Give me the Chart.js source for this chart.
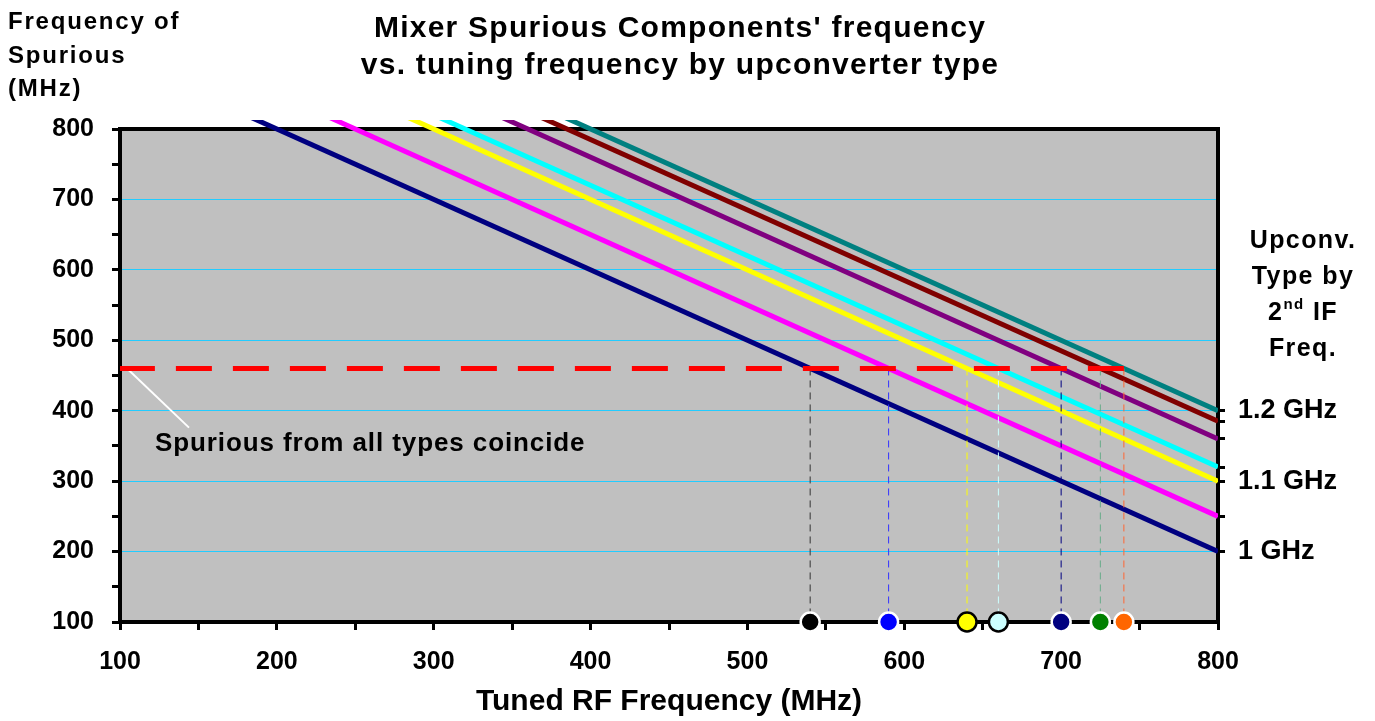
<!DOCTYPE html>
<html>
<head>
<meta charset="utf-8">
<script src="https://cdn.jsdelivr.net/npm/chart.js@4.4.1/dist/chart.umd.min.js"></script>
<style>
  html, body { margin: 0; padding: 0; background: #fff; }
  #wrap { width: 1375px; height: 721px; position: relative; }
</style>
</head>
<body>
<div id="wrap"><canvas id="chart"></canvas></div>
<script>
'use strict';

// spurious frequency vs tuned RF, one line per upconverter 2nd IF
const tunedRange = [150, 800];
const spurAtStart = [850, 900, 950, 970, 1010, 1035, 1050];
const spurAtEnd = [200, 250, 300, 320, 360, 385, 400];
const spurColors = ['#000080', '#ff00ff', '#ffff00', '#00ffff', '#800080', '#800000', '#008080'];

// level where spurious of all types coincide and the tuned freqs where each type hits it
const coincideLevel = 460;
const coincideTuned = [540, 590, 640, 660, 700, 725, 740];
const markerFill = ['#000000', '#0000ff', '#ffff00', '#ccffff', '#000080', '#008000', '#ff6600'];
const markerEdge = ['#ffffff', '#ffffff', '#000000', '#000000', '#ffffff', '#ffffff', '#ffffff'];
const dropColors = ['#333333', '#3333ff', '#ffff00', '#ccffff', '#000080', '#66aa88', '#ff6633'];

const ifLabels = { 200: '1 GHz', 300: '1.1 GHz', 400: '1.2 GHz' };
const leaderLine = [[103.5, 462], [144, 376]];

const FONT = "'Liberation Sans', Arial, sans-serif";

let datasets = [];

for (let i = 0; i < spurAtEnd.length; i++) {
    datasets.push({
        data: [{x: tunedRange[0], y: spurAtStart[i]}, {x: tunedRange[1], y: spurAtEnd[i]}],
        borderColor: spurColors[i],
        borderWidth: 5,
        pointRadius: 0,
        showLine: true,
        clip: {left: 0, top: 9, right: 0, bottom: 0},
        order: 4
    });
}

for (let i = 0; i < coincideTuned.length; i++) {
    datasets.push({
        data: [{x: coincideTuned[i], y: coincideLevel}, {x: coincideTuned[i], y: 100}],
        borderColor: dropColors[i],
        borderWidth: 1,
        borderDash: [7, 5],
        pointRadius: 0,
        showLine: true,
        order: 3
    });
}

datasets.push({
    data: [{x: coincideTuned[coincideTuned.length - 1], y: coincideLevel}, {x: 100, y: coincideLevel}],
    borderColor: '#ff0000',
    borderWidth: 5,
    borderDash: [36, 21],
    pointRadius: 0,
    showLine: true,
    order: 2
});

datasets.push({
    data: leaderLine.map(p => ({x: p[0], y: p[1]})),
    borderColor: '#ffffff',
    borderWidth: 2,
    pointRadius: 0,
    showLine: true,
    order: 2
});

datasets.push({
    data: coincideTuned.map(v => ({x: v, y: 100})),
    pointRadius: 9.5,
    pointBorderWidth: 2.5,
    pointBackgroundColor: markerFill,
    pointBorderColor: markerEdge,
    showLine: false,
    clip: false,
    order: 0
});

function spacedText(ctx, text, x, y, size, spacing) {
    ctx.font = 'bold ' + size + 'px ' + FONT;
    ctx.letterSpacing = spacing + 'px';
    ctx.fillText(text, x, y);
}

const framePlugin = {
    id: 'frame',
    beforeDraw(chart) {
        const a = chart.chartArea;
        const ctx = chart.ctx;
        ctx.save();
        ctx.fillStyle = '#c0c0c0';
        ctx.fillRect(a.left, a.top, a.right - a.left, a.bottom - a.top);
        ctx.restore();
    },
    beforeDatasetsDraw(chart) {
        const a = chart.chartArea;
        const ctx = chart.ctx;
        ctx.save();
        ctx.strokeStyle = '#000';
        ctx.lineWidth = 4;
        ctx.strokeRect(a.left, a.top, a.right - a.left, a.bottom - a.top);
        ctx.restore();
    },
    afterDatasetsDraw(chart) {
        const ctx = chart.ctx;
        ctx.save();
        ctx.fillStyle = '#000';
        ctx.textBaseline = 'alphabetic';
        ctx.textAlign = 'left';
        spacedText(ctx, 'Spurious from all types coincide', 155, 451, 26, 0.9);
        ctx.letterSpacing = '0px';
        ctx.restore();
    },
    afterDraw(chart) {
        const ctx = chart.ctx;
        ctx.save();
        ctx.fillStyle = '#000';
        ctx.textBaseline = 'alphabetic';

        ctx.textAlign = 'center';
        spacedText(ctx, "Mixer Spurious Components' frequency", 680, 37, 30, 1.25);
        spacedText(ctx, 'vs. tuning frequency by upconverter type', 680, 74, 30, 1.25);

        ctx.textAlign = 'left';
        spacedText(ctx, 'Frequency of', 8, 29, 24, 1.8);
        spacedText(ctx, 'Spurious', 8, 63, 24, 1.8);
        spacedText(ctx, '(MHz)', 8, 96, 24, 1.8);

        const cx = 1303;
        ctx.textAlign = 'center';
        spacedText(ctx, 'Upconv.', cx, 248, 25, 1.4);
        spacedText(ctx, 'Type by', cx, 284, 25, 1.4);
        spacedText(ctx, 'Freq.', cx, 356, 25, 1.4);

        // 2nd IF with superscript
        ctx.textAlign = 'left';
        ctx.letterSpacing = '1.4px';
        const big = 'bold 25px ' + FONT;
        const small = 'bold 15px ' + FONT;
        ctx.font = big;
        const w1 = ctx.measureText('2').width;
        const w3 = ctx.measureText(' IF').width;
        ctx.font = small;
        const w2 = ctx.measureText('nd').width;
        let x0 = cx - (w1 + w2 + w3) / 2;
        ctx.font = big;
        ctx.fillText('2', x0, 320);
        ctx.font = small;
        ctx.fillText('nd', x0 + w1, 309);
        ctx.font = big;
        ctx.fillText(' IF', x0 + w1 + w2, 320);
        ctx.letterSpacing = '0px';
        ctx.restore();
    }
};

new Chart(document.getElementById('chart'), {
    type: 'scatter',
    data: { datasets: datasets },
    options: {
        responsive: true,
        maintainAspectRatio: false,
        animation: false,
        layout: { padding: { top: 129, left: 0, right: 0, bottom: 0 } },
        plugins: {
            legend: { display: false },
            tooltip: { enabled: false }
        },
        scales: {
            x: {
                type: 'linear',
                min: 100,
                max: 800,
                afterFit: s => { s.height = 99; },
                ticks: {
                    stepSize: 50,
                    color: '#000',
                    padding: 17,
                    maxRotation: 0,
                    autoSkip: false,
                    font: { family: FONT, size: 25, weight: 'bold' },
                    callback: v => (v % 100 === 0 ? String(v) : '')
                },
                grid: {
                    drawOnChartArea: false,
                    tickLength: 8,
                    tickColor: '#000',
                    tickWidth: 3
                },
                border: { color: '#000', width: 4 },
                title: {
                    display: true,
                    text: 'Tuned RF Frequency (MHz)',
                    color: '#000',
                    padding: { top: 0, bottom: 1 },
                    font: { family: FONT, size: 30, weight: 'bold' }
                }
            },
            y: {
                type: 'linear',
                position: 'left',
                min: 100,
                max: 800,
                afterFit: s => { s.width = 120; },
                ticks: {
                    stepSize: 50,
                    color: '#000',
                    padding: 18,
                    autoSkip: false,
                    font: { family: FONT, size: 25, weight: 'bold' },
                    callback: v => (v % 100 === 0 ? String(v) : '')
                },
                grid: {
                    color: c => (c.tick && c.tick.value % 100 === 0 && c.tick.value > 100 && c.tick.value < 800 ? '#22ccff' : 'rgba(0,0,0,0)'),
                    lineWidth: 1,
                    tickLength: 8,
                    tickColor: '#000',
                    tickWidth: 3
                },
                border: { color: '#000', width: 4 }
            },
            y2: {
                type: 'linear',
                position: 'right',
                min: 100,
                max: 800,
                afterFit: s => { s.width = 157; },
                afterBuildTicks: s => { s.ticks = spurAtEnd.map(v => ({value: v})); },
                ticks: {
                    color: '#000',
                    padding: 13,
                    autoSkip: false,
                    font: { family: FONT, size: 27, weight: 'bold' },
                    callback: v => (ifLabels[v] || '')
                },
                grid: {
                    drawOnChartArea: false,
                    tickLength: 7,
                    tickColor: '#000',
                    tickWidth: 3
                },
                border: { color: '#000', width: 4 }
            }
        }
    },
    plugins: [framePlugin]
});
</script>
</body>
</html>
